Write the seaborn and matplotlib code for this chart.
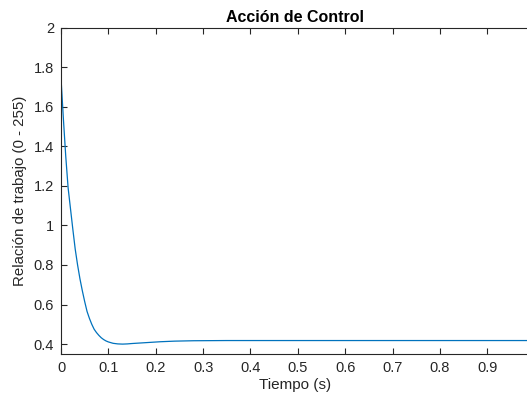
import matplotlib
matplotlib.use("Agg")
import matplotlib.pyplot as plt
import seaborn as sns
import pandas as pd

# Data
tiempo = [0, 0.005, 0.010, 0.015, 0.020, 0.025, 0.030, 0.035, 0.040, 0.045,
          0.050, 0.055, 0.060, 0.065, 0.070, 0.075, 0.080, 0.085, 0.090, 0.095,
          0.100, 0.110, 0.120, 0.130, 0.140, 0.150, 0.170, 0.190, 0.210, 0.240,
          0.280, 0.350, 0.500, 0.700, 1.000]
accion = [1.745, 1.54, 1.35, 1.19, 1.085, 0.98, 0.88, 0.80, 0.73, 0.67,
          0.615, 0.565, 0.53, 0.50, 0.475, 0.458, 0.444, 0.432, 0.423, 0.416,
          0.411, 0.404, 0.401, 0.400, 0.401, 0.403, 0.406, 0.409, 0.412, 0.415,
          0.417, 0.418, 0.418, 0.418, 0.418]
xticks = [0, 0.1, 0.2, 0.3, 0.4, 0.5, 0.6, 0.7, 0.8, 0.9]
xticklabels = ["0", "0.1", "0.2", "0.3", "0.4", "0.5", "0.6", "0.7", "0.8", "0.9"]
yticks = [0.4, 0.6, 0.8, 1.0, 1.2, 1.4, 1.6, 1.8, 2.0]
yticklabels = ["0.4", "0.6", "0.8", "1", "1.2", "1.4", "1.6", "1.8", "2"]

sns.set_style("white")
plt.rcParams["font.family"] = ["Liberation Sans", "DejaVu Sans"]

df = pd.DataFrame({"t": tiempo, "u": accion})

fig = plt.figure(figsize=(5.27, 3.94), dpi=100)
ax = fig.add_axes([61 / 527, (394 - 354) / 394, (529 - 61) / 527, (354 - 27.5) / 394])
sns.lineplot(data=df, x="t", y="u", ax=ax, color="#0072BD", linewidth=0.9)

ax.set_xlim(0, 0.988)
ax.set_ylim(0.35, 2.0)
ax.set_xticks(xticks)
ax.set_xticklabels(xticklabels)
ax.set_yticks(yticks)
ax.set_yticklabels(yticklabels)
ax.tick_params(direction="in", length=4, width=0.8, colors="#262626",
               labelsize=10.5, top=True, right=False, bottom=True, left=True, pad=5)
for s in ax.spines.values():
    s.set_color("#262626")
    s.set_linewidth(0.8)
ax.spines["right"].set_visible(False)

ax.set_xlabel("Tiempo (s)", fontsize=11, color="#262626", labelpad=2)
ax.set_ylabel("Relación de trabajo (0 - 255)", fontsize=10.8, color="#262626", labelpad=5)
ax.set_title("Acción de Control", fontsize=11.5, fontweight="bold", color="black", pad=4)

fig.savefig("out.png", dpi=100)
